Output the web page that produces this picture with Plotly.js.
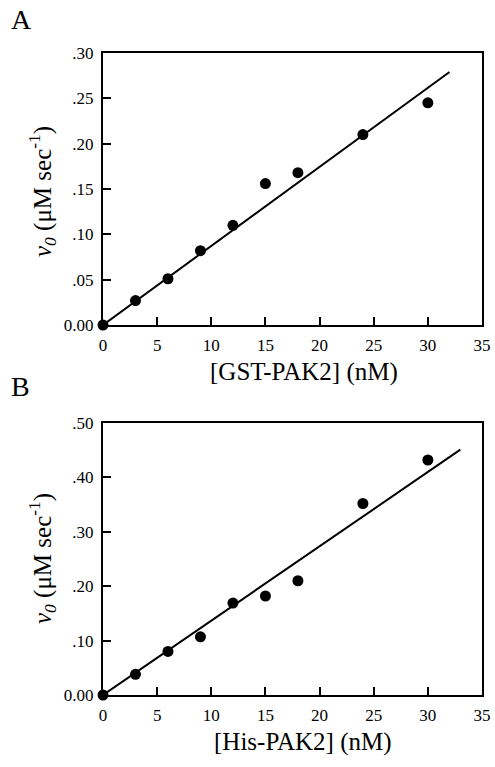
<!DOCTYPE html>
<html>
<head>
<meta charset="utf-8">
<script src="https://cdn.plot.ly/plotly-3.0.1.min.js"></script>
<style>html,body{margin:0;padding:0;background:#fff;}#chart{width:495px;height:767px;}</style>
</head>
<body>
<div id="chart"></div>
<script>
// Panel A: GST-PAK2
const concA = [0, 3, 6, 9, 12, 15, 18, 24, 30];
const rateA = [0, 0.027, 0.051, 0.082, 0.110, 0.156, 0.168, 0.210, 0.245];
const fitAx = [0, 32];
const fitAy = [0, 0.279];
// Panel B: His-PAK2
const concB = [0, 3, 6, 9, 12, 15, 18, 24, 30];
const rateB = [0, 0.038, 0.080, 0.107, 0.169, 0.182, 0.210, 0.352, 0.432];
const fitBx = [0, 33];
const fitBy = [0, 0.451];

const xTicks = [0, 5, 10, 15, 20, 25, 30, 35];
const yTicksA = [0, 0.05, 0.10, 0.15, 0.20, 0.25, 0.30];
const yTextA = ['0.00', '.05', '.10', '.15', '.20', '.25', '.30'];
const yTicksB = [0, 0.10, 0.20, 0.30, 0.40, 0.50];
const yTextB = ['0.00', '.10', '.20', '.30', '.40', '.50'];

const W = 495, H = 767;
const FONT = 'Times New Roman, Liberation Serif, Times, serif';
const px = v => v / W;
const py = v => 1 - v / H;

const mk = {color: 'black', size: 11};
const ln = {color: 'black', width: 2};

const data = [
  {x: fitAx, y: fitAy, mode: 'lines', line: ln, xaxis: 'x', yaxis: 'y', cliponaxis: false, hoverinfo: 'skip'},
  {x: concA, y: rateA, mode: 'markers', marker: mk, xaxis: 'x', yaxis: 'y', cliponaxis: false},
  {x: fitBx, y: fitBy, mode: 'lines', line: ln, xaxis: 'x2', yaxis: 'y2', cliponaxis: false, hoverinfo: 'skip'},
  {x: concB, y: rateB, mode: 'markers', marker: mk, xaxis: 'x2', yaxis: 'y2', cliponaxis: false}
];

function xax(anchor) {
  return {
    domain: [px(103), px(482)], anchor: anchor, range: [0, 35],
    tickvals: xTicks, ticks: 'inside', ticklen: 8, tickwidth: 2, tickcolor: 'black',
    showline: true, linewidth: 2, linecolor: 'black', mirror: true,
    showgrid: false, zeroline: false, ticklabelstandoff: 4,
    tickfont: {family: FONT, size: 17, color: 'black'}
  };
}
function yax(anchor, dom, rng, tv, tt) {
  return {
    domain: dom, anchor: anchor, range: rng,
    tickvals: tv, ticktext: tt, ticks: 'inside', ticklen: 8, tickwidth: 2, tickcolor: 'black',
    showline: true, linewidth: 2, linecolor: 'black', mirror: true,
    showgrid: false, zeroline: false, ticklabelstandoff: 4,
    tickfont: {family: FONT, size: 17, color: 'black'}
  };
}

const ytitle = '<i>v</i><sub><i>0</i></sub> (μM sec<sup>-1</sup>)';
const ann = (text, x, y, opts) => Object.assign({
  text: text, xref: 'paper', yref: 'paper', x: x, y: y, showarrow: false,
  font: {family: FONT, size: 25, color: 'black'}
}, opts || {});

const layout = {
  width: W, height: H,
  margin: {l: 0, r: 0, t: 0, b: 0},
  paper_bgcolor: 'white', plot_bgcolor: 'white',
  showlegend: false,
  xaxis: xax('y'),
  yaxis: yax('x', [py(325), py(53)], [0, 0.30], yTicksA, yTextA),
  xaxis2: xax('y2'),
  yaxis2: yax('x2', [py(695), py(423)], [0, 0.50], yTicksB, yTextB),
  annotations: [
    ann('A', px(9), py(19), {xanchor: 'left', yanchor: 'middle', font: {family: FONT, size: 28, color: 'black'}}),
    ann('B', px(9), py(387), {xanchor: 'left', yanchor: 'middle', font: {family: FONT, size: 28, color: 'black'}}),
    ann('[GST-PAK2] (nM)', px(304), py(372), {xanchor: 'center', yanchor: 'middle'}),
    ann('[His-PAK2] (nM)', px(303), py(742), {xanchor: 'center', yanchor: 'middle'}),
    ann(ytitle, px(42), py(192), {xanchor: 'center', yanchor: 'middle', textangle: -90}),
    ann(ytitle, px(42), py(559), {xanchor: 'center', yanchor: 'middle', textangle: -90})
  ]
};

Plotly.newPlot('chart', data, layout, {displayModeBar: false, staticPlot: true});
</script>
</body>
</html>
